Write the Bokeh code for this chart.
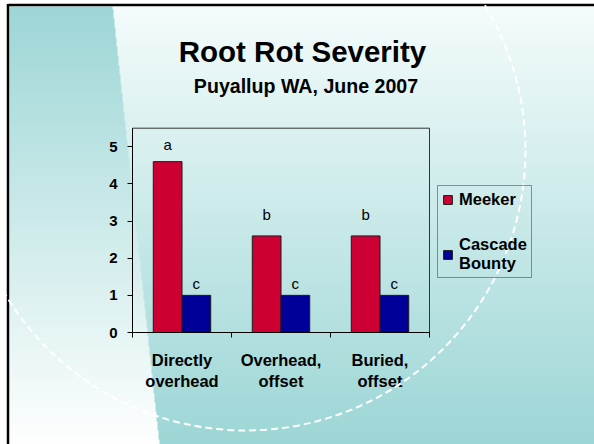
import numpy as np
from bokeh.plotting import figure
from bokeh.models import Range1d, LinearAxis, FixedTicker, Legend, LegendItem
from bokeh.core.properties import value
from bokeh.embed import file_html
from bokeh.resources import INLINE

# ---------------- data ----------------
categories = ["Directly\noverhead", "Overhead,\noffset", "Buried,\noffset"]
series_names = ["Meeker", "Cascade\nBounty"]
meeker = [4.6, 2.6, 2.6]
cascade = [1.0, 1.0, 1.0]
meeker_letters = ["a", "b", "b"]
cascade_letters = ["c", "c", "c"]
y_ticks = [0, 1, 2, 3, 4, 5]
title_text = "Root Rot Severity"
subtitle_text = "Puyallup WA, June 2007"

# heights (value units) of the significance letters
meeker_letter_y = [5.05, 3.18, 3.18]
cascade_letter_y = [1.31, 1.31, 1.31]

# ---------------- layout (page pixels) ----------------
FONT = "Liberation Sans"
W, H = 594, 444
AX_L, AX_R = 132, 429
AX_B, AX_T = 332, 127.7
Y_MAX = 5.5
n = len(categories)
sx = (AX_R - AX_L) / n
sy = (AX_B - AX_T) / Y_MAX

x_range = Range1d(-AX_L / sx, n + (W - AX_R) / sx)
y_range = Range1d(-(H - AX_B) / sy, Y_MAX + AX_T / sy)

p = figure(width=W, height=H, x_range=x_range, y_range=y_range,
           x_axis_type=None, y_axis_type=None, output_backend="svg",
           toolbar_location=None, min_border=0, outline_line_color=None,
           background_fill_color="white", border_fill_color="white")
p.extra_x_ranges = {"px": Range1d(0, W)}
p.extra_y_ranges = {"py": Range1d(0, H)}


def Y(page_y):
    return H - page_y


# ---------------- background (slide design) ----------------
IX0, IY0 = 9, 6
IW, IH = W - IX0, H - IY0
rows = np.arange(IH)
page_y = H - (rows + 0.5)
page_x = IX0 + np.arange(IW) + 0.5
PY, PX = np.meshgrid(page_y, page_x, indexing="ij")
t = np.clip((PY - 4) / 440.0, 0, 1)[..., None]
teal = np.array([157, 214, 214], dtype=float)
light = np.array([245, 252, 252], dtype=float)
white = np.array([255, 255, 255], dtype=float)
left_col = teal + (white - teal) * t
right_col = light + (teal - light) * t
edge = 112 + (PY - 4) * 47.0 / 440.0
mask = (PX < edge)[..., None]
col = np.where(mask, left_col, right_col)
img = np.empty((IH, IW), dtype=np.uint32)
view = img.view(dtype=np.uint8).reshape((IH, IW, 4))
view[..., 0] = col[..., 0].astype(np.uint8)
view[..., 1] = col[..., 1].astype(np.uint8)
view[..., 2] = col[..., 2].astype(np.uint8)
view[..., 3] = 255
p.image_rgba(image=[img], x=IX0, y=0, dw=IW, dh=IH,
             x_range_name="px", y_range_name="py")

# slide border (left and top)
p.segment(x0=[7.5, 6.5], y0=[Y(444), Y(4.6)], x1=[7.5, 594], y1=[Y(3.5), Y(4.6)],
          line_color="black", line_width=2.5, x_range_name="px", y_range_name="py")

# titles
p.text(x=[302], y=[Y(50.7)], text=[title_text], text_font=value(FONT),
       text_font_style="bold", text_font_size="29.5px", text_align="center",
       text_baseline="alphabetic", text_color="black",
       x_range_name="px", y_range_name="py")
p.text(x=[305.5], y=[Y(85.3)], text=[subtitle_text], text_font=value(FONT),
       text_font_style="bold", text_font_size="19.6px", text_align="center",
       text_baseline="alphabetic", text_color="black",
       x_range_name="px", y_range_name="py")

# ---------------- chart ----------------
p.quad(left=[0], right=[n], bottom=[0], top=[Y_MAX], fill_color=None,
       line_color="#333333", line_width=1)

BW = 0.29
x_m = [i + 0.5 - BW / 2 for i in range(n)]
x_c = [i + 0.5 + BW / 2 for i in range(n)]
r_m = p.vbar(x=x_m, top=meeker, bottom=0, width=BW, fill_color="#CC0033",
             line_color="#1a1a1a", line_width=1)
r_c = p.vbar(x=x_c, top=cascade, bottom=0, width=BW, fill_color="#000099",
             line_color="#1a1a1a", line_width=1)

p.text(x=x_m, y=meeker_letter_y, text=meeker_letters, text_font=value(FONT),
       text_font_size="15px", text_align="center", text_baseline="alphabetic",
       text_color="black")
p.text(x=x_c, y=cascade_letter_y, text=cascade_letters, text_font=value(FONT),
       text_font_size="15px", text_align="center", text_baseline="alphabetic",
       text_color="black")

yaxis = LinearAxis(fixed_location=0, ticker=FixedTicker(ticks=y_ticks),
                   bounds=(0, Y_MAX))
yaxis.major_tick_out = 5
yaxis.major_tick_in = 0
yaxis.minor_tick_out = 0
yaxis.minor_tick_in = 0
yaxis.axis_line_color = "black"
yaxis.major_tick_line_color = "black"
yaxis.major_label_text_font = FONT
yaxis.major_label_text_font_style = "bold"
yaxis.major_label_text_font_size = "15px"
yaxis.major_label_text_color = "black"
yaxis.major_label_standoff = 10
p.add_layout(yaxis, "left")

centers = [i + 0.5 for i in range(n)]
xaxis = LinearAxis(fixed_location=0,
                   ticker=FixedTicker(ticks=centers, minor_ticks=list(range(n + 1))),
                   bounds=(0, n))
xaxis.major_label_overrides = {c: lab for c, lab in zip(centers, categories)}
xaxis.major_tick_out = 0
xaxis.major_tick_in = 0
xaxis.minor_tick_out = 5
xaxis.minor_tick_in = 0
xaxis.minor_tick_line_color = "black"
xaxis.axis_line_color = "black"
xaxis.major_label_text_font = FONT
xaxis.major_label_text_font_style = "bold"
xaxis.major_label_text_font_size = "16.5px"
xaxis.major_label_text_color = "black"
xaxis.major_label_standoff = 13
p.add_layout(xaxis, "below")

legend = Legend(items=[LegendItem(label=series_names[0], renderers=[r_m]),
                       LegendItem(label=series_names[1], renderers=[r_c])],
                location=(437, 166), margin=0, padding=4, spacing=26,
                glyph_width=11, glyph_height=11, label_standoff=6,
                label_text_font=FONT, label_text_font_style="bold",
                label_text_font_size="16.5px", label_text_color="black",
                border_line_color="#333333", border_line_width=1,
                background_fill_alpha=0)
p.add_layout(legend)

# dashed decorative circle
p.circle(x=[245], y=[Y(150)], radius=280, fill_color=None, line_color="white",
         line_width=2, line_dash="7 4", x_range_name="px", y_range_name="py",
         level="overlay")

open("out.html", "w").write(file_html(p, INLINE))
